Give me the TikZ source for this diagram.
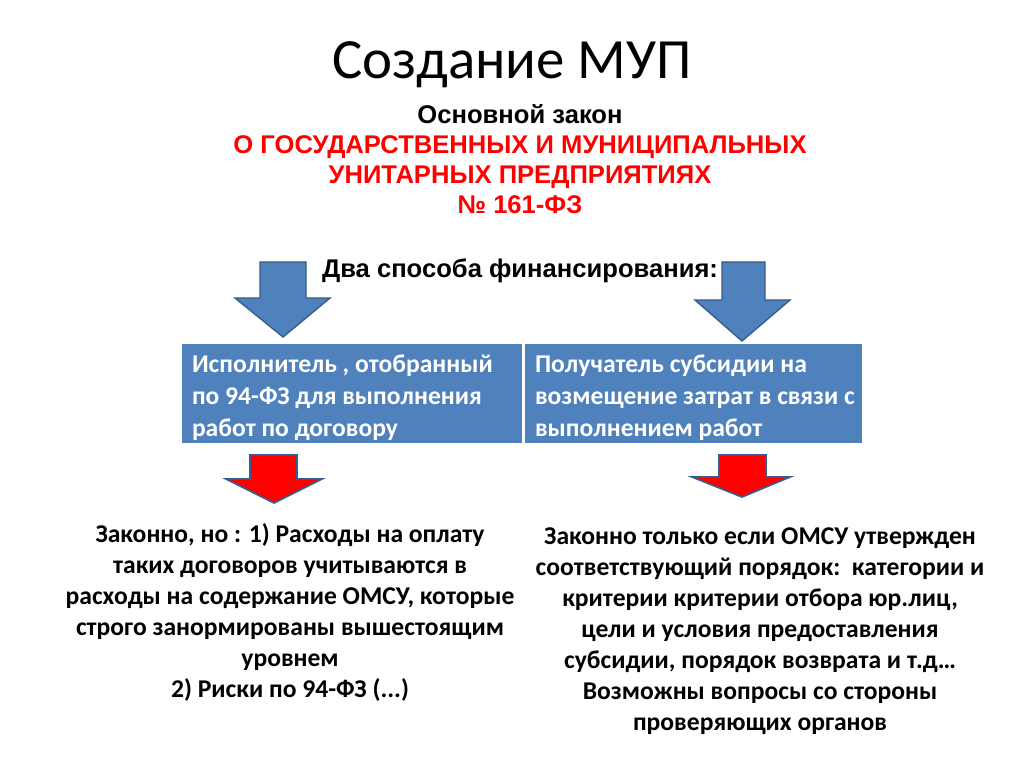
\documentclass[tikz,border=0pt]{standalone}
\usepackage{fontspec}
\setmainfont{Carlito}
\newfontfamily\arialfont{Liberation Sans}
\usetikzlibrary{positioning}

\definecolor{boxblue}{HTML}{4F81BD}
\definecolor{edgeblue}{HTML}{385D8A}
\definecolor{lawred}{HTML}{FF0000}

\begin{document}
\begin{tikzpicture}[
        x=0.703125pt, y=-0.703125pt,
        every node/.style={inner sep=0pt, outer sep=0pt},
        titletext/.style={font=\fontsize{40}{48}\selectfont},
        lawtext/.style={font=\arialfont\bfseries\fontsize{18}{21}\selectfont},
        boxtext/.style={font=\bfseries\fontsize{18}{22.5}\selectfont, text=white, align=left},
        notetext/.style={font=\bfseries\fontsize{18}{21.8}\selectfont, align=center},
        waybox/.style={fill=boxblue, draw=none},
        bluearrow/.style={fill=boxblue, draw=edgeblue, line width=1pt, line join=miter},
        redarrow/.style={fill=lawred, draw=edgeblue, line width=1.2pt, line join=miter}
    ]
    \useasboundingbox (0,0) rectangle (1024,768);
    \fill[white] (0,0) rectangle (1024,768);

    % heading
    \node[titletext, anchor=base] (title) at (512,79) {Создание МУП};
    \node[lawtext, anchor=base] (law) at (520,124) {Основной закон};
    \node[lawtext, text=lawred, anchor=base] (lawa) at (520,154) {О ГОСУДАРСТВЕННЫХ И МУНИЦИПАЛЬНЫХ};
    \node[lawtext, text=lawred, anchor=base] (lawb) at (520,184) {УНИТАРНЫХ ПРЕДПРИЯТИЯХ};
    \node[lawtext, text=lawred, anchor=base] (lawc) at (520,214) {№ 161-ФЗ};
    \node[lawtext, anchor=base] (ways) at (520,278) {Два способа финансирования:};

    % the two ways
    \fill[waybox] (182,344) rectangle (522,443);
    \fill[waybox] (525,344) rectangle (862,443);
    \node[boxtext, anchor=north west] (contractor) at (192,355)
        {Исполнитель , отобранный\\по 94-ФЗ для выполнения\\работ по договору};
    \node[boxtext, anchor=north west] (receiver) at (535,355)
        {Получатель субсидии на\\возмещение затрат в связи с\\выполнением работ};

    % arrows
    \draw[bluearrow] (260,262) -- (306,262) -- (306,298) -- (330,298) -- (283,337)
        -- (235,298) -- (260,298) -- cycle;
    \draw[bluearrow] (722,262) -- (765,262) -- (765,300) -- (790,300) -- (742,341)
        -- (695,300) -- (722,300) -- cycle;
    \draw[redarrow] (250,455) -- (297,455) -- (297,479) -- (322,479) -- (274,503)
        -- (226,479) -- (250,479) -- cycle;
    \draw[redarrow] (719,455) -- (766,455) -- (766,477) -- (790,477) -- (742,497)
        -- (692,477) -- (719,477) -- cycle;

    % notes
    \node[notetext, anchor=north] (leftnote) at (290,523)
        {Законно, но : 1) Расходы на оплату\\таких договоров учитываются в\\расходы на содержание ОМСУ, которые\\строго занормированы вышестоящим\\уровнем\\2) Риски по 94-ФЗ (...)};
    \node[notetext, anchor=north] (rightnote) at (760,528)
        {Законно только если ОМСУ утвержден\\соответствующий порядок:\ \ категории и\\критерии критерии отбора юр.лиц,\\цели и условия предоставления\\субсидии, порядок возврата и т.д…\\Возможны вопросы со стороны\\проверяющих органов};
\end{tikzpicture}
\end{document}
